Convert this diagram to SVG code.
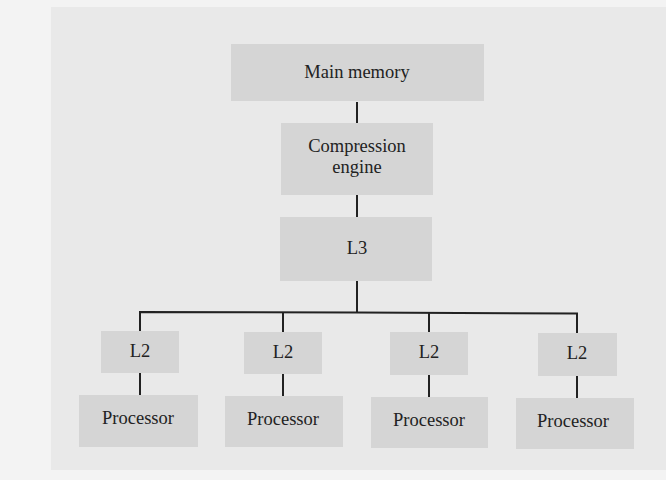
<svg xmlns="http://www.w3.org/2000/svg" width="666" height="480" viewBox="0 0 666 480">
<style>
.box{fill:#d5d5d5}
.lbl{font-family:"Liberation Serif","Times New Roman",serif;font-size:18.5px;fill:#222;text-anchor:middle}
.wire{stroke:#222;stroke-width:2;fill:none}
</style>
<rect x="0" y="0" width="666" height="480" fill="#f3f3f3"/>
<rect x="51" y="7" width="615" height="463" fill="#e9e9e9"/>
<g id="connectors">
<line class="wire" x1="357" y1="102" x2="357" y2="123"/>
<line class="wire" x1="357" y1="195" x2="357" y2="217"/>
<line class="wire" x1="357" y1="281" x2="357" y2="313"/>
<polyline class="wire" points="140,331 140,312 357,312.5 577,313.5 577,333"/>
<line class="wire" x1="283" y1="312.3" x2="283" y2="332"/>
<line class="wire" x1="429" y1="313" x2="429" y2="332"/>
<line class="wire" x1="140" y1="373" x2="140" y2="395"/>
<line class="wire" x1="283" y1="374" x2="283" y2="396"/>
<line class="wire" x1="429" y1="375" x2="429" y2="397"/>
<line class="wire" x1="577" y1="376" x2="577" y2="398"/>
</g>
<g id="main-memory">
<rect class="box" x="231" y="44" width="253" height="57"/>
<text class="lbl" x="357" y="78">Main memory</text>
</g>
<g id="compression-engine">
<rect class="box" x="281" y="123" width="152" height="72"/>
<text class="lbl" x="357" y="152">Compression</text>
<text class="lbl" x="357" y="173">engine</text>
</g>
<g id="l3">
<rect class="box" x="280" y="217" width="152" height="64"/>
<text class="lbl" x="357" y="254">L3</text>
</g>
<g id="l2-1">
<rect class="box" x="101" y="331" width="78" height="42"/>
<text class="lbl" x="140" y="357">L2</text>
</g>
<g id="l2-2">
<rect class="box" x="244" y="332" width="78" height="42"/>
<text class="lbl" x="283" y="358">L2</text>
</g>
<g id="l2-3">
<rect class="box" x="390" y="332" width="78" height="43"/>
<text class="lbl" x="429" y="358">L2</text>
</g>
<g id="l2-4">
<rect class="box" x="538" y="333" width="79" height="43"/>
<text class="lbl" x="577" y="359">L2</text>
</g>
<g id="processor-1">
<rect class="box" x="79" y="395" width="119" height="52"/>
<text class="lbl" x="138" y="424">Processor</text>
</g>
<g id="processor-2">
<rect class="box" x="225" y="396" width="118" height="51"/>
<text class="lbl" x="283" y="425">Processor</text>
</g>
<g id="processor-3">
<rect class="box" x="371" y="397" width="117" height="51"/>
<text class="lbl" x="429" y="426">Processor</text>
</g>
<g id="processor-4">
<rect class="box" x="516" y="398" width="118" height="51"/>
<text class="lbl" x="573" y="427">Processor</text>
</g>
</svg>
